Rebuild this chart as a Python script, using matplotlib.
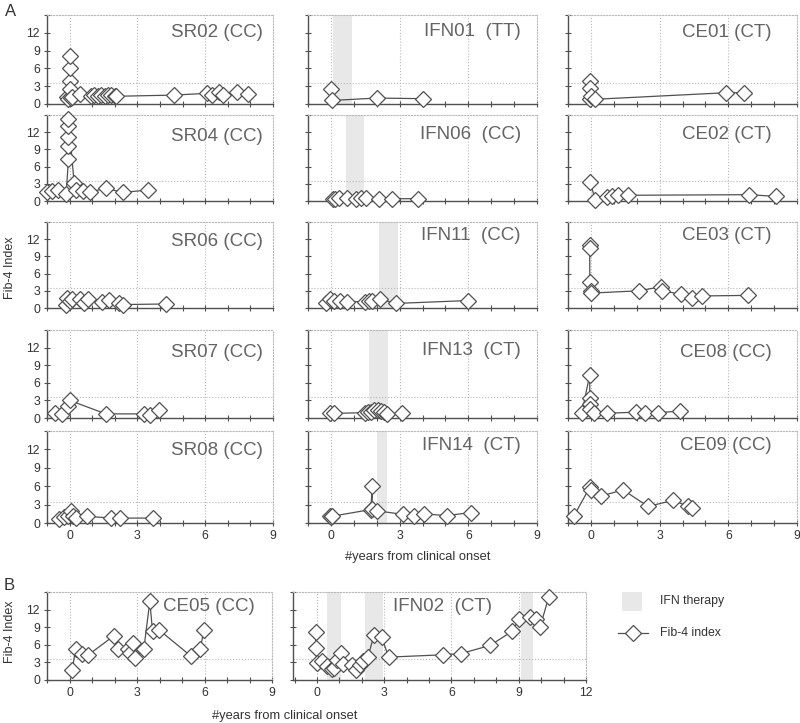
import matplotlib.pyplot as plt
from matplotlib.patches import Rectangle
from matplotlib.lines import Line2D

plt.rcParams['font.family'] = ['Liberation Sans', 'DejaVu Sans']

# ---- data: years from clinical onset / Fib-4 index ----
sr02_x = [-0.1, -0.05, 0.0, 0.0, 0.0, 0.0, 0.05, 0.1, 0.45, 0.95, 1.1, 1.25, 1.4, 1.55, 1.7, 1.85, 2.0, 2.05, 4.6, 6.1, 6.3, 6.6, 6.8, 7.4, 7.9]
sr02_y = [1.2, 0.8, 3.9, 6.1, 8.1, 2.5, 1.0, 1.2, 1.7, 1.3, 1.5, 1.4, 1.6, 1.4, 1.5, 1.6, 1.4, 1.3, 1.5, 1.8, 1.6, 2.1, 1.5, 2.1, 1.7]

sr04_x = [-1.0, -0.8, -0.5, -0.15, -0.05, -0.05, -0.05, -0.05, -0.05, 0.2, 0.3, 0.6, 0.9, 1.6, 2.35, 3.45]
sr04_y = [1.5, 1.7, 1.9, 1.3, 7.3, 9.6, 11.1, 13.1, 14.3, 3.2, 2.0, 1.8, 1.6, 2.2, 1.5, 1.9]

sr06_x = [-0.15, -0.1, 0.0, 0.1, 0.45, 0.65, 0.8, 1.45, 1.75, 2.2, 2.35, 4.25]
sr06_y = [0.6, 1.7, 1.2, 1.5, 1.5, 0.9, 1.6, 1.1, 1.4, 0.8, 0.6, 0.7]

sr07_x = [-0.65, -0.35, -0.05, 0.0, 1.6, 3.3, 3.55, 3.95]
sr07_y = [0.8, 0.6, 2.0, 3.0, 0.7, 0.7, 0.5, 1.4]

sr08_x = [-0.45, -0.25, -0.05, 0.05, 0.15, 0.3, 0.75, 1.85, 2.25, 3.7]
sr08_y = [0.7, 0.9, 1.2, 1.9, 1.2, 0.8, 1.1, 0.8, 0.8, 0.8]

ifn01_x = [0.0, 0.05, 2.0, 4.0]
ifn01_y = [2.5, 0.6, 1.0, 0.9]
ifn01_tx = [(0.1, 0.9)]

ifn06_x = [0.1, 0.2, 0.35, 0.7, 1.1, 1.3, 1.55, 2.1, 2.65, 3.8]
ifn06_y = [0.3, 0.4, 0.5, 0.5, 0.4, 0.5, 0.5, 0.4, 0.4, 0.4]
ifn06_tx = [(0.65, 1.45)]

ifn11_x = [-0.2, -0.05, 0.15, 0.4, 0.7, 1.5, 1.65, 1.8, 2.15, 2.85, 6.0]
ifn11_y = [0.9, 1.5, 1.3, 1.2, 1.1, 1.1, 1.2, 1.2, 1.5, 0.8, 1.3]
ifn11_tx = [(2.1, 2.93)]

ifn13_x = [-0.05, 0.15, 1.5, 1.6, 1.75, 1.9, 2.05, 2.2, 2.3, 2.45, 3.1]
ifn13_y = [0.8, 0.8, 0.9, 1.0, 1.1, 1.3, 1.3, 1.2, 1.0, 0.7, 0.8]
ifn13_tx = [(1.67, 2.5)]

ifn14_x = [-0.05, 0.0, 0.05, 1.75, 1.8, 1.8, 2.0, 3.15, 3.65, 4.05, 5.05, 6.1]
ifn14_y = [1.2, 0.9, 1.1, 2.2, 6.0, 2.3, 2.0, 1.4, 1.1, 1.5, 1.2, 1.7]
ifn14_tx = [(2.03, 2.46)]

ce01_x = [-0.05, -0.05, -0.05, 0.0, 0.2, 5.9, 6.7]
ce01_y = [3.9, 2.7, 0.9, 1.4, 0.8, 1.9, 1.9]

ce02_x = [-0.05, 0.2, 0.7, 0.9, 1.2, 1.6, 6.9, 8.1]
ce02_y = [3.4, 0.2, 0.7, 0.9, 1.0, 1.0, 1.1, 0.8]

ce03_x = [-0.05, -0.05, -0.05, 0.0, 0.0, 2.1, 3.05, 3.1, 3.95, 4.4, 4.85, 6.85]
ce03_y = [11.0, 10.5, 4.5, 3.0, 2.6, 3.0, 3.7, 3.0, 2.4, 1.75, 2.1, 2.2]

ce08_x = [-0.4, -0.05, -0.05, -0.05, -0.05, 0.15, 0.7, 1.95, 2.35, 2.95, 3.9]
ce08_y = [0.8, 7.4, 3.4, 2.4, 1.6, 0.8, 0.8, 1.0, 0.8, 0.9, 1.2]

ce09_x = [-0.75, -0.05, 0.0, 0.45, 1.4, 2.5, 3.6, 4.25, 4.4]
ce09_y = [1.1, 5.8, 5.4, 4.4, 5.4, 2.7, 3.7, 2.7, 2.4]

ce05_x = [0.12, 0.27, 0.56, 0.81, 1.96, 2.17, 2.58, 2.7, 2.8, 2.92, 3.3, 3.57, 3.69, 3.99, 5.39, 5.8, 5.98]
ce05_y = [1.7, 5.25, 4.35, 4.2, 7.5, 5.25, 5.25, 4.6, 6.3, 3.8, 5.2, 13.4, 8.3, 8.5, 4.1, 5.2, 8.5]

ifn02_x = [-0.05, -0.05, 0.0, 0.22, 0.45, 0.67, 0.75, 0.9, 1.09, 1.15, 1.57, 1.72, 1.94, 2.06, 2.27, 2.54, 2.88, 3.2,
           5.64, 6.42, 7.73, 8.7, 9.03, 9.48, 9.75, 9.96, 10.34]
ifn02_y = [8.1, 5.4, 2.9, 3.2, 2.4, 1.85, 2.1, 3.4, 4.6, 2.7, 2.6, 1.7, 2.6, 3.2, 3.9, 7.6, 7.3, 3.9,
           4.3, 4.5, 5.9, 8.3, 10.4, 10.8, 10.4, 9.1, 14.2]
ifn02_tx = [(0.45, 1.09), (2.13, 2.96), (9.1, 9.63)]

cutoff = 3.5

# ---- layout ----
W, H = 800, 723
fig = plt.figure(figsize=(8, 7.23), dpi=100)


def box(l, t, r, b):
    return [l / W, 1 - b / H, (r - l) / W, (b - t) / H]


LINE = '#505050'
GRID = '#b8b8b8'
SHADE = '#e8e8e8'
TXT = '#333333'
TITLE = '#646464'


def draw(ax, x, y, title, tx, ty, ifn=(), xmin=-1, xmax=9, ylab=False, xlab=False):
    for a, b in ifn:
        ax.axvspan(a, b, color=SHADE, lw=0, zorder=0)
    for v in range(0, xmax, 3):
        ax.axvline(v, color=GRID, ls=':', lw=0.8, zorder=1)
    ax.axhline(cutoff, color=GRID, ls=':', lw=0.8, zorder=1)
    ax.plot(x, y, color=LINE, lw=0.9, marker='D', ms=7.8, mfc='white',
            mec=LINE, mew=0.9, zorder=3, clip_on=False)
    ax.set_xlim(xmin, xmax)
    ax.set_ylim(0, 15)
    ax.set_xticks(range(0, xmax + 1, 3))
    ax.set_xticks(range(-1, xmax + 1), minor=True)
    ax.set_yticks(range(0, 16, 3))
    if ylab:
        ax.set_yticklabels(['0', '3', '6', '9', '12', ''])
    else:
        ax.set_yticklabels([])
    if not xlab:
        ax.set_xticklabels([])
    ax.tick_params(which='both', direction='inout', length=4, width=0.8,
                   color=LINE, labelsize=8.8, labelcolor=TXT, pad=3)
    for s in ['top', 'right']:
        ax.spines[s].set_linestyle(':')
        ax.spines[s].set_color(GRID)
        ax.spines[s].set_linewidth(0.8)
    for s in ['left', 'bottom']:
        ax.spines[s].set_color(LINE)
        ax.spines[s].set_linewidth(1.0)
    ax.text(tx, ty, title, transform=ax.transAxes, ha='right', va='center',
            fontsize=13.5, color=TITLE)


rows_tb = [(15, 104), (115, 201), (222, 308), (330, 418), (431, 523)]
cols_lr = [(47, 273), (308, 537), (568, 797)]
title_x = [0.955, 0.93, 0.89]

panels = [
    (0, 0, sr02_x, sr02_y, 'SR02 (CC)', [], 0.80),
    (1, 0, sr04_x, sr04_y, 'SR04 (CC)', [], 0.75),
    (2, 0, sr06_x, sr06_y, 'SR06 (CC)', [], 0.77),
    (3, 0, sr07_x, sr07_y, 'SR07 (CC)', [], 0.75),
    (4, 0, sr08_x, sr08_y, 'SR08 (CC)', [], 0.79),
    (0, 1, ifn01_x, ifn01_y, 'IFN01  (TT)', ifn01_tx, 0.82),
    (1, 1, ifn06_x, ifn06_y, 'IFN06  (CC)', ifn06_tx, 0.77),
    (2, 1, ifn11_x, ifn11_y, 'IFN11  (CC)', ifn11_tx, 0.84),
    (3, 1, ifn13_x, ifn13_y, 'IFN13  (CT)', ifn13_tx, 0.77),
    (4, 1, ifn14_x, ifn14_y, 'IFN14  (CT)', ifn14_tx, 0.84),
    (0, 2, ce01_x, ce01_y, 'CE01 (CT)', [], 0.80),
    (1, 2, ce02_x, ce02_y, 'CE02 (CT)', [], 0.77),
    (2, 2, ce03_x, ce03_y, 'CE03 (CT)', [], 0.84),
    (3, 2, ce08_x, ce08_y, 'CE08 (CC)', [], 0.75),
    (4, 2, ce09_x, ce09_y, 'CE09 (CC)', [], 0.84),
]

for r, c, x, y, title, ifn, ty in panels:
    l, rr = cols_lr[c]
    t, b = rows_tb[r]
    ax = fig.add_axes(box(l, t, rr, b))
    draw(ax, x, y, title, title_x[c], ty, ifn, ylab=(c == 0), xlab=(r == 4))

# panel B
ax = fig.add_axes(box(47, 592, 272, 680))
draw(ax, ce05_x, ce05_y, 'CE05 (CC)', 0.925, 0.83, ylab=True, xlab=True)
ax = fig.add_axes(box(293, 592, 586, 680))
draw(ax, ifn02_x, ifn02_y, 'IFN02  (CT)', 0.68, 0.83, ifn02_tx,
     xmin=-1.07, xmax=12, xlab=True)

# labels
fig.text(5 / W, 1 - 11 / H, 'A', fontsize=12, color=TXT, va='center')
fig.text(4 / W, 1 - 585 / H, 'B', fontsize=12, color=TXT, va='center')
fig.text(10 / W, 1 - 268 / H, 'Fib-4 Index', rotation=90, fontsize=9,
         color=TXT, ha='center', va='center')
fig.text(10 / W, 1 - 632 / H, 'Fib-4 Index', rotation=90, fontsize=9,
         color=TXT, ha='center', va='center')
fig.text(418 / W, 1 - 557 / H, '#years from clinical onset', fontsize=9.3,
         color=TXT, ha='center', va='center')
fig.text(285 / W, 1 - 716 / H, '#years from clinical onset', fontsize=9.3,
         color=TXT, ha='center', va='center')

# legend
fig.add_artist(Rectangle((622 / W, 1 - 611 / H), 20 / W, 19 / H,
                         transform=fig.transFigure, color=SHADE, lw=0))
fig.text(660 / W, 1 - 601 / H, 'IFN therapy', fontsize=8.8, color=TXT, va='center')
fig.add_artist(Line2D([618 / W, 648 / W], [1 - 633 / H, 1 - 633 / H],
                      transform=fig.transFigure, color=LINE, lw=0.9))
fig.add_artist(Line2D([633 / W], [1 - 633 / H], transform=fig.transFigure,
                      marker='D', ms=7.8, mfc='white', mec=LINE, mew=0.9))
fig.text(660 / W, 1 - 633 / H, 'Fib-4 index', fontsize=8.8, color=TXT, va='center')

fig.savefig('out.png', dpi=100, facecolor='white')
